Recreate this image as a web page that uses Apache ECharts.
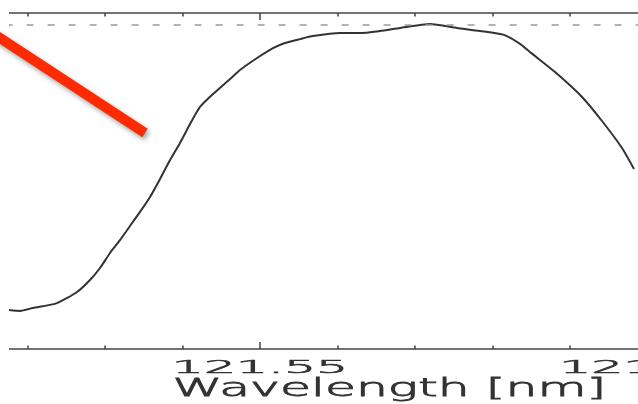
<!DOCTYPE html>
<html>
<head>
<meta charset="utf-8">
<script src="https://cdn.jsdelivr.net/npm/echarts@6/dist/echarts.min.js"></script>
<style>
  html, body { margin: 0; padding: 0; background: #ffffff; }
  #chart { width: 638px; height: 404px; }
</style>
</head>
<body>
<div id="chart"></div>
<script>
// Wavelength (nm) of each sample along the profile
const wavelength = [
  121.51761, 121.51903, 121.52070, 121.52380, 121.52638, 121.52806, 121.52935,
  121.53064, 121.53193, 121.53322, 121.53451, 121.53581, 121.53710, 121.53839,
  121.53968, 121.54097, 121.54226, 121.54394, 121.54613, 121.54742, 121.54962,
  121.55168, 121.55323, 121.55517, 121.55684, 121.56033, 121.56291, 121.56549,
  121.56807, 121.57194, 121.57543, 121.57840, 121.58149, 121.58356, 121.58498,
  121.58808, 121.59156, 121.59414, 121.59672, 121.59827
];
// Normalised profile values
const profile = [
  0.050, 0.047, 0.057, 0.073, 0.110, 0.150, 0.190,
  0.240, 0.283, 0.330, 0.377, 0.427, 0.487, 0.550,
  0.607, 0.670, 0.727, 0.770, 0.820, 0.850, 0.890,
  0.923, 0.940, 0.953, 0.963, 0.973, 0.973, 0.980,
  0.990, 1.003, 0.990, 0.980, 0.967, 0.937, 0.907,
  0.843, 0.760, 0.680, 0.590, 0.520
];
const referenceLevel = 1.0;
const tickValues = [121.55, 121.60];
const tickLabels = ['121.55', '121.60'];
const axisTitle = 'Wavelength [nm]';

const chart = echarts.init(document.getElementById('chart'), null, { renderer: 'canvas' });

const axisColor = '#444';
function makeXAxis(pos) {
  return {
    type: 'value',
    position: pos,
    min: 121.50,
    max: 121.65,
    interval: 0.05,
    axisLine: { show: true, onZero: false, lineStyle: { color: axisColor, width: 1.5 } },
    axisTick: { show: true, inside: true, length: 7, lineStyle: { color: axisColor, width: 1.5 } },
    minorTick: { show: true, splitNumber: 5, length: 3.5, lineStyle: { color: axisColor, width: 1.5 } },
    axisLabel: { show: false },
    splitLine: { show: false },
    minorSplitLine: { show: false }
  };
}

const seriesData = wavelength.map((w, i) => [w, profile[i]]);

chart.setOption({
  animation: false,
  backgroundColor: '#ffffff',
  grid: { left: -127.4, right: -396.8, top: 13, bottom: 55, outerBoundsMode: 'none', containLabel: false },
  xAxis: [makeXAxis('bottom'), makeXAxis('top')],
  yAxis: { type: 'value', min: -0.08, max: 1.04, show: false },
  series: [{
    type: 'line',
    xAxisIndex: 0,
    data: seriesData,
    showSymbol: false,
    smooth: 0.2,
    lineStyle: { color: '#333333', width: 2 },
    markLine: {
      silent: true,
      symbol: ['none', 'none'],
      label: { show: false },
      lineStyle: { color: '#9a9a9a', type: [7, 14], dashOffset: 14, width: 1.5 },
      data: [{ yAxis: referenceLevel }]
    }
  }]
});

const textColor = '#333333';
const graphics = [
  { type: 'rect', z: 100, shape: { x: 0, y: 0, width: 9, height: 404 }, style: { fill: '#ffffff' } }
];
tickValues.forEach((v, i) => {
  const px = chart.convertToPixel({ xAxisIndex: 0 }, v);
  graphics.push({
    type: 'text', z: 100, x: px, y: 368.5, scaleX: 2.8, scaleY: 1,
    style: {
      text: tickLabels[i], fontSize: 18, fontWeight: 200, fontFamily: 'DejaVu Sans',
      fill: textColor, stroke: textColor, lineWidth: 0.7,
      align: 'center', verticalAlign: 'middle', textAlign: 'center', textVerticalAlign: 'middle'
    }
  });
});
const midX = chart.convertToPixel({ xAxisIndex: 0 }, 121.5667);
graphics.push({
  type: 'text', z: 100, x: midX, y: 390, scaleX: 2.1, scaleY: 1,
  style: {
    text: axisTitle, fontSize: 24, fontWeight: 200, fontFamily: 'DejaVu Sans',
    fill: textColor, stroke: textColor, lineWidth: 0.8,
    align: 'center', verticalAlign: 'middle', textAlign: 'center', textVerticalAlign: 'middle'
  }
});
graphics.push({
  type: 'line', z: 101,
  shape: { x1: -5, y1: 34.7, x2: 145, y2: 133 },
  style: {
    stroke: '#ff2a00', lineWidth: 10, lineCap: 'butt',
    shadowBlur: 5, shadowColor: 'rgba(0,0,0,0.35)', shadowOffsetX: 2, shadowOffsetY: 3
  }
});
chart.setOption({ graphic: { elements: graphics } });
</script>
</body>
</html>
